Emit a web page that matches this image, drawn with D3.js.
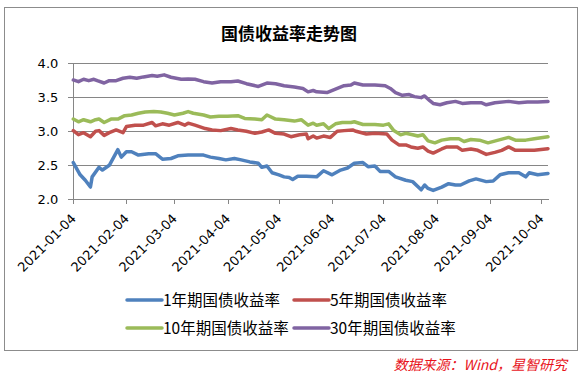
<!DOCTYPE html>
<html>
<head>
<meta charset="utf-8">
<script src="https://cdn.jsdelivr.net/npm/d3@7"></script>
<style>
  body { margin: 0; background: #fff; }
  svg { display: block; }
</style>
</head>
<body>
<div id="chart"></div>
<script>
const title = "国债收益率走势图";
const source = "数据来源：Wind，星智研究";
const seriesNames = ["1年期国债收益率", "5年期国债收益率", "10年期国债收益率", "30年期国债收益率"];
const seriesColors = ["#4f81bd", "#c0504d", "#9bbb59", "#8064a2"];
const yTicks = [2.0, 2.5, 3.0, 3.5, 4.0];
const xTicks = ["2021-01-04", "2021-02-04", "2021-03-04", "2021-04-04", "2021-05-04",
  "2021-06-04", "2021-07-04", "2021-08-04", "2021-09-04", "2021-10-04"];

const y1 = [
  ["2021-01-04", 2.54], ["2021-01-08", 2.36], ["2021-01-11", 2.28], ["2021-01-14", 2.18],
  ["2021-01-15", 2.33], ["2021-01-19", 2.47], ["2021-01-21", 2.43], ["2021-01-25", 2.50],
  ["2021-01-30", 2.73], ["2021-02-01", 2.62], ["2021-02-04", 2.70], ["2021-02-07", 2.70],
  ["2021-02-11", 2.65], ["2021-02-17", 2.67], ["2021-02-21", 2.67], ["2021-02-25", 2.59],
  ["2021-03-02", 2.60], ["2021-03-06", 2.64], ["2021-03-12", 2.65], ["2021-03-16", 2.65],
  ["2021-03-21", 2.65], ["2021-03-25", 2.62], ["2021-03-30", 2.60], ["2021-04-03", 2.58],
  ["2021-04-08", 2.60], ["2021-04-12", 2.58], ["2021-04-17", 2.55], ["2021-04-22", 2.53],
  ["2021-04-24", 2.47], ["2021-04-27", 2.49], ["2021-04-30", 2.39], ["2021-05-04", 2.36],
  ["2021-05-07", 2.33], ["2021-05-10", 2.32], ["2021-05-12", 2.29], ["2021-05-15", 2.34],
  ["2021-05-20", 2.34], ["2021-05-26", 2.33], ["2021-05-30", 2.42], ["2021-06-04", 2.36],
  ["2021-06-09", 2.43], ["2021-06-13", 2.46], ["2021-06-17", 2.53], ["2021-06-22", 2.54],
  ["2021-06-25", 2.48], ["2021-06-29", 2.49], ["2021-07-02", 2.41], ["2021-07-07", 2.41],
  ["2021-07-11", 2.33], ["2021-07-17", 2.28], ["2021-07-21", 2.26], ["2021-07-26", 2.14],
  ["2021-07-28", 2.21], ["2021-07-30", 2.16], ["2021-08-02", 2.13], ["2021-08-07", 2.18],
  ["2021-08-11", 2.23], ["2021-08-15", 2.21], ["2021-08-18", 2.21], ["2021-08-23", 2.27],
  ["2021-08-27", 2.30], ["2021-09-02", 2.26], ["2021-09-06", 2.27], ["2021-09-10", 2.36],
  ["2021-09-15", 2.39], ["2021-09-21", 2.39], ["2021-09-25", 2.33], ["2021-09-27", 2.39],
  ["2021-10-02", 2.36], ["2021-10-08", 2.38]
];

const y5 = [
  ["2021-01-04", 3.01], ["2021-01-07", 2.95], ["2021-01-10", 2.98], ["2021-01-14", 2.92],
  ["2021-01-17", 3.00], ["2021-01-19", 3.01], ["2021-01-22", 2.94], ["2021-01-25", 2.98],
  ["2021-01-29", 3.02], ["2021-02-02", 2.98], ["2021-02-04", 3.07], ["2021-02-09", 3.09],
  ["2021-02-14", 3.09], ["2021-02-19", 3.13], ["2021-02-21", 3.08], ["2021-02-25", 3.11],
  ["2021-03-01", 3.09], ["2021-03-06", 3.13], ["2021-03-10", 3.09], ["2021-03-12", 3.12],
  ["2021-03-16", 3.09], ["2021-03-22", 3.04], ["2021-03-26", 3.02], ["2021-03-31", 3.01],
  ["2021-04-06", 3.04], ["2021-04-10", 3.02], ["2021-04-15", 3.00], ["2021-04-20", 2.97],
  ["2021-04-24", 2.99], ["2021-04-28", 3.02], ["2021-05-02", 2.97], ["2021-05-07", 2.96],
  ["2021-05-11", 2.92], ["2021-05-16", 2.95], ["2021-05-20", 2.96], ["2021-05-21", 2.89],
  ["2021-05-24", 2.93], ["2021-05-26", 2.90], ["2021-05-30", 2.93], ["2021-06-03", 2.91],
  ["2021-06-07", 3.00], ["2021-06-11", 3.01], ["2021-06-16", 3.02], ["2021-06-18", 3.00],
  ["2021-06-24", 2.96], ["2021-06-29", 2.97], ["2021-07-06", 2.96], ["2021-07-09", 2.87],
  ["2021-07-13", 2.80], ["2021-07-17", 2.80], ["2021-07-20", 2.77], ["2021-07-24", 2.75],
  ["2021-07-27", 2.77], ["2021-07-30", 2.71], ["2021-08-02", 2.68], ["2021-08-07", 2.74],
  ["2021-08-10", 2.77], ["2021-08-16", 2.77], ["2021-08-19", 2.72], ["2021-08-24", 2.74],
  ["2021-08-28", 2.72], ["2021-09-02", 2.66], ["2021-09-07", 2.69], ["2021-09-11", 2.72],
  ["2021-09-15", 2.77], ["2021-09-19", 2.72], ["2021-09-25", 2.72], ["2021-09-30", 2.72],
  ["2021-10-08", 2.745]
];

const y10 = [
  ["2021-01-04", 3.18], ["2021-01-07", 3.14], ["2021-01-10", 3.17], ["2021-01-14", 3.14],
  ["2021-01-17", 3.17], ["2021-01-19", 3.18], ["2021-01-22", 3.13], ["2021-01-26", 3.18],
  ["2021-01-30", 3.18], ["2021-02-03", 3.23], ["2021-02-07", 3.24], ["2021-02-11", 3.265],
  ["2021-02-15", 3.285], ["2021-02-20", 3.29], ["2021-02-24", 3.285], ["2021-02-28", 3.265],
  ["2021-03-04", 3.24], ["2021-03-09", 3.265], ["2021-03-12", 3.29], ["2021-03-15", 3.265],
  ["2021-03-21", 3.24], ["2021-03-25", 3.21], ["2021-03-30", 3.22], ["2021-04-04", 3.22],
  ["2021-04-10", 3.23], ["2021-04-14", 3.19], ["2021-04-20", 3.18], ["2021-04-24", 3.17],
  ["2021-04-27", 3.24], ["2021-05-02", 3.18], ["2021-05-07", 3.17], ["2021-05-13", 3.15],
  ["2021-05-17", 3.17], ["2021-05-21", 3.09], ["2021-05-24", 3.12], ["2021-05-26", 3.09],
  ["2021-05-30", 3.11], ["2021-06-02", 3.04], ["2021-06-06", 3.11], ["2021-06-10", 3.13],
  ["2021-06-15", 3.13], ["2021-06-17", 3.14], ["2021-06-22", 3.10], ["2021-06-29", 3.10],
  ["2021-07-04", 3.09], ["2021-07-07", 3.11], ["2021-07-10", 3.01], ["2021-07-14", 2.95],
  ["2021-07-17", 2.97], ["2021-07-21", 2.95], ["2021-07-24", 2.93], ["2021-07-27", 2.95],
  ["2021-07-30", 2.86], ["2021-08-03", 2.83], ["2021-08-07", 2.87], ["2021-08-12", 2.89],
  ["2021-08-17", 2.89], ["2021-08-20", 2.85], ["2021-08-24", 2.88], ["2021-08-29", 2.87],
  ["2021-09-03", 2.83], ["2021-09-09", 2.87], ["2021-09-15", 2.91], ["2021-09-19", 2.87],
  ["2021-09-25", 2.87], ["2021-09-30", 2.89], ["2021-10-08", 2.92]
];

const y30 = [
  ["2021-01-04", 3.755], ["2021-01-07", 3.73], ["2021-01-10", 3.765], ["2021-01-13", 3.745],
  ["2021-01-16", 3.765], ["2021-01-18", 3.745], ["2021-01-22", 3.71], ["2021-01-25", 3.745],
  ["2021-01-29", 3.745], ["2021-02-02", 3.78], ["2021-02-06", 3.795], ["2021-02-10", 3.78],
  ["2021-02-14", 3.80], ["2021-02-19", 3.82], ["2021-02-22", 3.81], ["2021-02-26", 3.83],
  ["2021-03-02", 3.795], ["2021-03-08", 3.765], ["2021-03-12", 3.77], ["2021-03-16", 3.765],
  ["2021-03-21", 3.73], ["2021-03-26", 3.71], ["2021-03-31", 3.73], ["2021-04-06", 3.73],
  ["2021-04-10", 3.74], ["2021-04-15", 3.70], ["2021-04-22", 3.66], ["2021-04-27", 3.71],
  ["2021-05-02", 3.70], ["2021-05-07", 3.67], ["2021-05-13", 3.65], ["2021-05-18", 3.63],
  ["2021-05-21", 3.58], ["2021-05-24", 3.60], ["2021-05-26", 3.58], ["2021-06-01", 3.57],
  ["2021-06-06", 3.62], ["2021-06-11", 3.67], ["2021-06-15", 3.68], ["2021-06-17", 3.71],
  ["2021-06-22", 3.68], ["2021-06-29", 3.68], ["2021-07-05", 3.67], ["2021-07-08", 3.63],
  ["2021-07-11", 3.57], ["2021-07-15", 3.53], ["2021-07-19", 3.54], ["2021-07-22", 3.51],
  ["2021-07-26", 3.495], ["2021-07-28", 3.52], ["2021-07-31", 3.45], ["2021-08-02", 3.41],
  ["2021-08-06", 3.39], ["2021-08-10", 3.42], ["2021-08-15", 3.44], ["2021-08-19", 3.41],
  ["2021-08-24", 3.42], ["2021-08-30", 3.42], ["2021-09-02", 3.39], ["2021-09-07", 3.42],
  ["2021-09-15", 3.44], ["2021-09-21", 3.42], ["2021-09-26", 3.43], ["2021-10-02", 3.43],
  ["2021-10-08", 3.44]
];

const seriesData = [y1, y5, y10, y30];

const config = {
  width: 584,
  height: 374,
  margin: { top: 63.3, left: 73.3, right: 36, bottom: 174.7 },
  lineWidth: 3.5,
  gridColor: "#868686"
};
config.plotW = config.width - config.margin.left - config.margin.right;
config.plotH = config.height - config.margin.top - config.margin.bottom;

const parse = d3.timeParse("%Y-%m-%d");

const svg = d3.select("#chart")
  .append("svg")
  .attr("width", config.width)
  .attr("height", config.height);

// outer frame
svg.append("rect")
  .attr("x", 4.5)
  .attr("y", 7.5)
  .attr("width", 573)
  .attr("height", 343)
  .attr("fill", "#fff")
  .attr("stroke", "#8c8c8c")
  .attr("stroke-width", 1);

svg.append("text")
  .attr("x", 289)
  .attr("y", 39.5)
  .attr("text-anchor", "middle")
  .style("font-family", "'Noto Sans CJK SC', sans-serif")
  .style("font-weight", "bold")
  .style("font-size", "17px")
  .style("fill", "#000")
  .text(title);

const g = svg.append("g")
  .attr("transform", "translate(" + config.margin.left + "," + config.margin.top + ")");

const xScale = d3.scaleTime()
  .domain([parse("2021-01-04"), parse("2021-10-08")])
  .range([0, config.plotW]);

const yScale = d3.scaleLinear()
  .domain([2, 4])
  .range([config.plotH, 0]);

// horizontal gridlines + left ticks
const yAxis = g.append("g")
  .call(d3.axisLeft(yScale)
    .tickValues(yTicks)
    .tickFormat(d3.format(".1f"))
    .tickSize(-config.plotW)
    .tickPadding(15));
yAxis.select(".domain").remove();
yAxis.selectAll(".tick line")
  .attr("x1", -5)
  .attr("stroke", config.gridColor)
  .attr("shape-rendering", "crispEdges");
yAxis.selectAll(".tick text")
  .style("font-family", "'DejaVu Sans', sans-serif")
  .style("font-size", "13px")
  .style("fill", "#000");

// left axis line
g.append("line")
  .attr("x1", 0).attr("x2", 0)
  .attr("y1", 0).attr("y2", config.plotH)
  .attr("stroke", config.gridColor)
  .attr("shape-rendering", "crispEdges");

// x axis
const xAxis = g.append("g")
  .attr("transform", "translate(0," + config.plotH + ")")
  .call(d3.axisBottom(xScale)
    .tickValues(xTicks.map(parse))
    .tickFormat(d3.timeFormat("%Y-%m-%d"))
    .tickSize(5)
    .tickSizeOuter(0));
xAxis.select(".domain")
  .attr("stroke", config.gridColor)
  .attr("shape-rendering", "crispEdges");
xAxis.selectAll(".tick line")
  .attr("stroke", config.gridColor)
  .attr("shape-rendering", "crispEdges");
xAxis.selectAll(".tick text")
  .attr("text-anchor", "end")
  .attr("dy", 0)
  .attr("y", 0)
  .attr("transform", "translate(3,20) rotate(-45)")
  .style("font-family", "'DejaVu Sans', sans-serif")
  .style("font-size", "13px")
  .style("fill", "#000");

const line = d3.line()
  .x(d => xScale(parse(d[0])))
  .y(d => yScale(d[1]));

g.append("g")
  .selectAll("path")
  .data(seriesData)
  .enter().append("path")
  .attr("d", line)
  .attr("fill", "none")
  .attr("stroke", (d, i) => seriesColors[i])
  .attr("stroke-width", config.lineWidth)
  .attr("stroke-linejoin", "round")
  .attr("stroke-linecap", "round");

// legend
const legendPos = [[127, 300], [294, 300], [127, 328], [294, 328]];
const legend = svg.append("g")
  .selectAll("g")
  .data(seriesNames)
  .enter().append("g")
  .attr("transform", (d, i) => "translate(" + legendPos[i][0] + "," + legendPos[i][1] + ")");

legend.append("line")
  .attr("x1", 0).attr("x2", 35)
  .attr("y1", 0).attr("y2", 0)
  .attr("stroke", (d, i) => seriesColors[i])
  .attr("stroke-width", config.lineWidth)
  .attr("stroke-linecap", "round");

legend.append("text")
  .attr("x", 36)
  .attr("y", 5.5)
  .style("font-family", "'Noto Sans CJK SC', sans-serif")
  .style("font-size", "15.5px")
  .style("fill", "#000")
  .text(d => d);

svg.append("text")
  .attr("x", 567)
  .attr("y", 369.5)
  .attr("text-anchor", "end")
  .style("font-family", "'Noto Sans CJK SC', sans-serif")
  .style("font-style", "italic")
  .style("font-size", "14px")
  .style("fill", "#e8141c")
  .text(source);
</script>
</body>
</html>
